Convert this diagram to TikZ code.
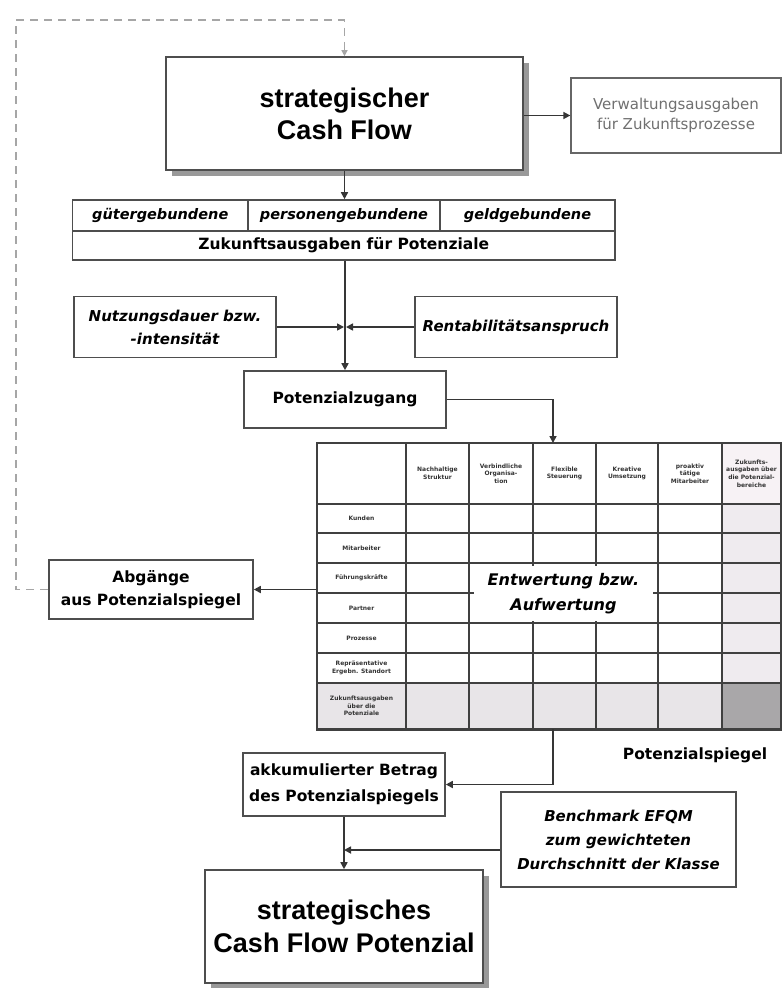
\documentclass[tikz,border=0pt]{standalone}
\usepackage{fontspec}
\setmainfont{DejaVu Sans}
\newfontfamily\titlefont{Liberation Sans}
\usetikzlibrary{arrows.meta,shadows}

\definecolor{linec}{HTML}{363636}
\definecolor{boxc}{HTML}{4E4E4E}
\definecolor{gridc}{HTML}{404040}
\definecolor{softtxt}{HTML}{707070}
\definecolor{colshade}{HTML}{EFEBEF}
\definecolor{headshade}{HTML}{F7F2F5}
\definecolor{rowshade}{HTML}{E8E5E8}
\definecolor{cornershade}{HTML}{A9A7A9}

\begin{document}
\begin{tikzpicture}[x=1pt,y=-1pt,
  box/.style={draw=boxc, line width=1.6pt, fill=white, inner sep=0pt, align=center},
  titlebox/.style={box, font=\titlefont\bfseries\fontsize{27}{32}\selectfont,
    drop shadow={shadow xshift=6pt, shadow yshift=-6pt, fill=black!40, opacity=1}},
  boldtxt/.style={font=\bfseries\fontsize{15.5}{23}\selectfont},
  italtxt/.style={font=\bfseries\itshape\fontsize{15}{23}\selectfont},
  arr/.style={draw=linec, line width=1.6pt, -{Triangle[length=7pt,width=7pt]}},
  loopline/.style={draw=black!35, line width=1.3pt, dash pattern=on 8pt off 6pt,
    -{Triangle[length=6pt,width=6pt]}},
  grid/.style={draw=gridc, line width=1.7pt},
  cell/.style={font=\bfseries\fontsize{6}{7.6}\selectfont, text=black!80, align=center, inner sep=0pt}
]
\useasboundingbox (0,0) rectangle (782,988);

% --- upper part: cash flow and future expenditure ---
\node[titlebox, minimum width=357pt, minimum height=113pt] (cf) at (344.5,113.5)
  {strategischer\\Cash Flow};
\node[box, draw=black!60, line width=1.3pt, minimum width=210pt, minimum height=75pt,
  font=\fontsize{15}{20}\selectfont, text=softtxt] (verw) at (676,115.5)
  {Verwaltungsausgaben\\für Zukunftsprozesse};
\draw[arr] (cf.east |- verw.west) -- (verw.west);

\node[box, minimum width=175.5pt, minimum height=31pt, font=\bfseries\itshape\fontsize{14.5}{17}\selectfont] (g1) at (160.25,215.5) {gütergebundene};
\node[box, minimum width=192pt, minimum height=31pt, font=\bfseries\itshape\fontsize{14.5}{17}\selectfont] (g2) at (344,215.5) {personengebundene};
\node[box, minimum width=175pt, minimum height=31pt, font=\bfseries\itshape\fontsize{14.5}{17}\selectfont] (g3) at (527.5,215.5) {geldgebundene};
\node[box, boldtxt, minimum width=542.5pt, minimum height=29pt] (zk) at (343.75,245.5)
  {Zukunftsausgaben für Potenziale};
\draw[arr] (cf.south) -- (cf.south |- g2.north);

\node[box, italtxt, minimum width=202pt, minimum height=61pt] (nutz) at (175,327)
  {Nutzungsdauer bzw.\\-intensität};
\node[box, italtxt, minimum width=202pt, minimum height=61pt] (rent) at (516,327)
  {Rentabilitätsanspruch};
\node[box, boldtxt, minimum width=202pt, minimum height=57pt] (pz) at (345,399.5)
  {Potenzialzugang};
\coordinate (junc) at (345,327);
\draw[arr] (zk.south -| pz.north) -- (pz.north);
\draw[arr, shorten >=1pt] (nutz.east) -- (junc);
\draw[arr, shorten >=1pt] (rent.west) -- (junc);

% --- potential mirror table ---
\fill[headshade] (722,443) rectangle (781,504);
\fill[colshade] (722,504) rectangle (781,683);
\fill[rowshade] (317,683) rectangle (722,729);
\fill[cornershade] (722,683) rectangle (781,729);
\foreach \xx in {406,469,533,596,658,722}
  \draw[grid] (\xx,443) -- (\xx,729);
\foreach \yy in {504,533,563,593,623,653,683}
  \draw[grid] (317,\yy) -- (781,\yy);
\node[draw=gridc, line width=1.8pt, minimum width=464pt, minimum height=286pt, inner sep=0pt]
  (spiegel) at (549,586) {};
\draw[draw=gridc, line width=3pt] (spiegel.south west) -- (spiegel.south east);

\node[cell] (h1) at (437.5,473.5) {Nachhaltige\\Struktur};
\node[cell] (h2) at (501,473.5) {Verbindliche\\Organisa-\\tion};
\node[cell] (h3) at (564.5,473.5) {Flexible\\Steuerung};
\node[cell] (h4) at (627,473.5) {Kreative\\Umsetzung};
\node[cell] (h5) at (690,473.5) {proaktiv\\tätige\\Mitarbeiter};
\node[cell] (h6) at (751.5,473.5) {Zukunfts-\\ausgaben über\\die Potenzial-\\bereiche};

\node[cell] (r1) at (361.5,518.5) {Kunden};
\node[cell] (r2) at (361.5,548) {Mitarbeiter};
\node[cell] (r3) at (361.5,578) {Führungskräfte};
\node[cell] (r4) at (361.5,608) {Partner};
\node[cell] (r5) at (361.5,638) {Prozesse};
\node[cell] (r6) at (361.5,668) {Repräsentative\\Ergebn. Standort};
\node[cell] (r7) at (361.5,706) {Zukunftsausgaben\\über die\\Potenziale};

\node[fill=white, inner sep=0pt, minimum width=179pt, minimum height=55pt, align=center,
  font=\bfseries\itshape\fontsize{16}{25}\selectfont] (ent) at (563.5,593.5)
  {Entwertung bzw.\\Aufwertung};
\node[font=\bfseries\fontsize{15.5}{18}\selectfont, inner sep=0pt] (lbl) at (695,755) {Potenzialspiegel};

\coordinate (tin) at (553,443);
\draw[arr] (pz.east) -| (tin);

% --- outflows and accumulated value ---
\node[box, boldtxt, minimum width=204pt, minimum height=59pt] (ab) at (151,589.5)
  {Abgänge\\aus Potenzialspiegel};
\draw[arr] (spiegel.west |- ab.east) -- (ab.east);
\coordinate (lt) at (16,20);
\draw[loopline] (ab.west) -| (lt) -| (cf.north);

\node[box, boldtxt, minimum width=202pt, minimum height=63pt, font=\bfseries\fontsize{15.5}{26}\selectfont] (akk) at (344,784.5)
  {akkumulierter Betrag\\des Potenzialspiegels};
\coordinate (tout) at (553,729);
\draw[arr] (tout) |- (akk.east);

\node[box, minimum width=235pt, minimum height=95pt, font=\bfseries\itshape\fontsize{15}{24}\selectfont] (bm) at (618.5,839.5)
  {Benchmark EFQM\\zum gewichteten\\Durchschnitt der Klasse};

\node[titlebox, minimum width=278pt, minimum height=113pt, font=\titlefont\bfseries\fontsize{27}{33}\selectfont] (fin) at (344,926.5)
  {strategisches\\Cash Flow Potenzial};
\coordinate (bj) at (344,850);
\draw[arr] (akk.south) -- (fin.north);
\draw[arr] (bm.west |- bj) -- (bj);
\end{tikzpicture}
\end{document}
